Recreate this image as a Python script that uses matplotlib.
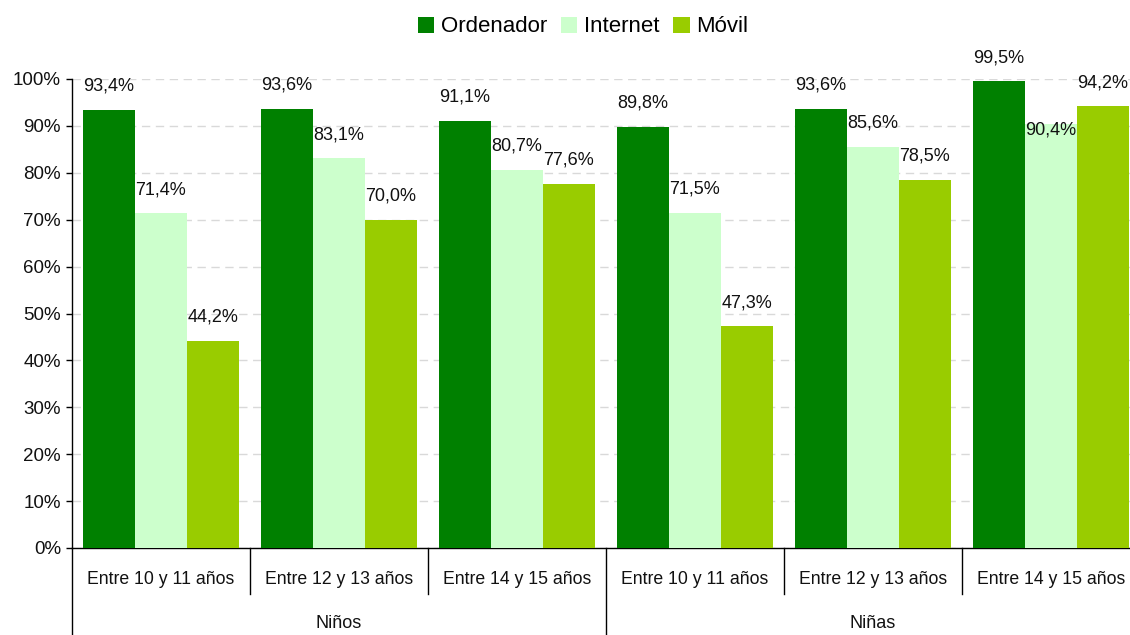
import numpy as np
import matplotlib
matplotlib.use('Agg')
import matplotlib.pyplot as plt
from matplotlib.patches import Patch

plt.rcParams['font.family'] = ['Liberation Sans Narrow', 'Liberation Sans', 'DejaVu Sans']
plt.rcParams['lines.scale_dashes'] = False

# datos
grupos = ['Entre 10 y 11 años', 'Entre 12 y 13 años', 'Entre 14 y 15 años',
          'Entre 10 y 11 años', 'Entre 12 y 13 años', 'Entre 14 y 15 años']
sexos = ['Niños', 'Niñas']
series = ['Ordenador', 'Internet', 'Móvil']
ordenador = [93.4, 93.6, 91.1, 89.8, 93.6, 99.5]
internet = [71.4, 83.1, 80.7, 71.5, 85.6, 90.4]
movil = [44.2, 70.0, 77.6, 47.3, 78.5, 94.2]
colores = ['#008000', '#CCFFCC', '#99CC00']

fig = plt.figure(figsize=(11.3, 6.35), dpi=100)
ax = fig.add_axes([72 / 1130, 87 / 635, 1058 / 1130, 469 / 635])

x = np.arange(len(grupos))
w = 52 / 178
for k, (vals, col) in enumerate(zip([ordenador, internet, movil], colores)):
    pos = x + (k - 1) * w
    ax.bar(pos, vals, width=w, color=col, zorder=3)
    for p, v in zip(pos, vals):
        txt = f'{v:.1f}'.replace('.', ',') + '%'
        off = 17
        # la etiqueta de 90,4% queda dentro de la barra en el original
        if k == 1 and v == 90.4:
            off = -4
        ax.annotate(txt, (p, v), xytext=(0, off), textcoords='offset points',
                    ha='center', va='center', fontsize=13, color='#111111', zorder=4)

ax.set_xlim(-0.5, -0.5 + 1058 / 178)
ax.set_ylim(0, 100)
ax.set_yticks(range(0, 101, 10))
ax.set_yticklabels([f'{t}%' for t in range(0, 101, 10)], fontsize=13.5, color='#111111')
ax.tick_params(axis='y', length=4, width=1, pad=4)
ax.set_xticks([])
ax.yaxis.grid(True, color='#D9D9D9', linewidth=1, linestyle=(0, (6, 4)), zorder=0)
ax.set_axisbelow(True)
for s in ['top', 'right']:
    ax.spines[s].set_visible(False)
ax.spines['left'].set_linewidth(1)
ax.spines['bottom'].set_linewidth(1)

# eje de categorias en dos niveles
tr = ax.get_xaxis_transform()
for i, g in enumerate(grupos):
    ax.text(i, -32 / 469, g, transform=tr, ha='center', va='center', fontsize=12.7, color='#111111')
for i in [1, 2, 4, 5]:
    ax.plot([i - 0.5, i - 0.5], [0, -46 / 469], transform=tr, color='black', lw=1, clip_on=False)
for i in [0, 3]:
    ax.plot([i - 0.5, i - 0.5], [0, -88 / 469], transform=tr, color='black', lw=1, clip_on=False)
for j, s in enumerate(sexos):
    ax.text(1 + 3 * j, -75 / 469, s, transform=tr, ha='center', va='center', fontsize=13, color='#111111')

handles = [Patch(facecolor=c, edgecolor='none') for c in colores]
fig.legend(handles, series, loc='center', bbox_to_anchor=(583 / 1130, 1 - 27 / 635), ncol=3,
           frameon=False, fontsize=16, handlelength=0.75, handleheight=0.75,
           handletextpad=0.3, columnspacing=0.6)

fig.savefig('out.png', dpi=100)
